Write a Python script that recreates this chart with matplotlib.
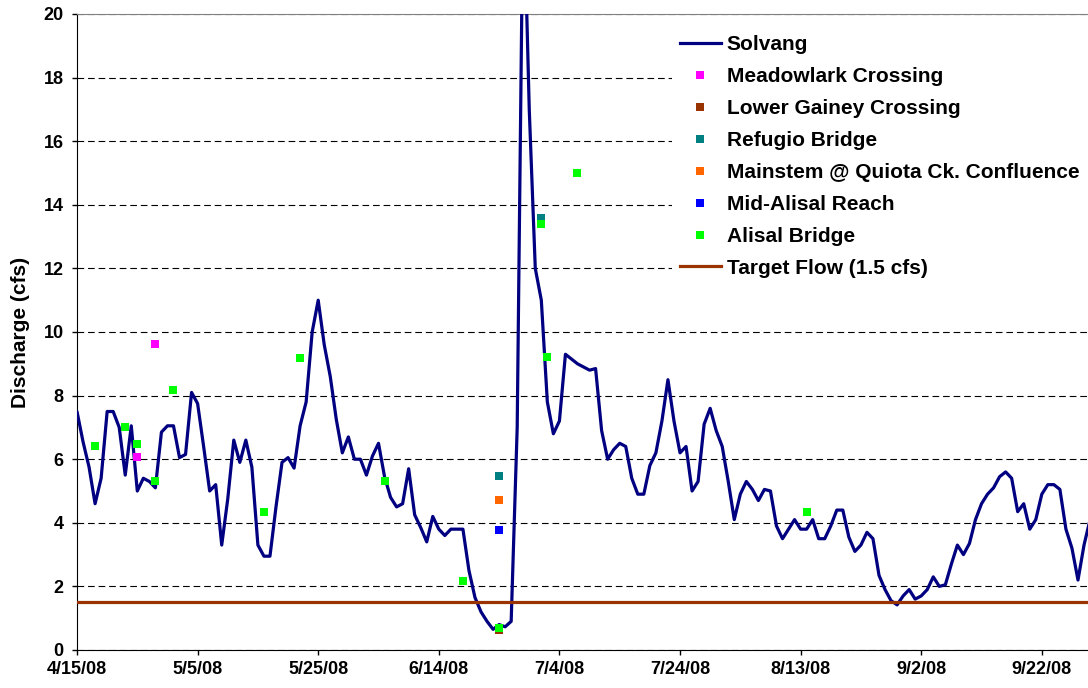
import numpy as np
import matplotlib
matplotlib.use("Agg")
from matplotlib import pyplot as plt
import matplotlib.dates as mdates

plt.rcParams['font.family'] = ['Liberation Sans', 'DejaVu Sans']
plt.rcParams['font.weight'] = 'bold'

# Solvang daily discharge (cfs), starting 4/14/08
solvang_start = np.datetime64('2008-04-14')
solvang_flow = [6.1,
    7.5, 6.55, 5.75, 4.6, 5.4, 7.5, 7.5, 7.0, 5.5, 7.05,
    5.0, 5.4, 5.3, 5.1, 6.85, 7.05, 7.05, 6.05, 6.15, 8.1,
    7.75, 6.4, 5.0, 5.2, 3.3, 4.75, 6.6, 5.9, 6.6, 5.75,
    3.3, 2.95, 2.95, 4.5, 5.9, 6.05, 5.72, 7.05, 7.8, 10.0,
    11.0, 9.6, 8.6, 7.25, 6.2, 6.7, 6.0, 6.0, 5.5, 6.1,
    6.5, 5.45, 4.8, 4.5, 4.6, 5.7, 4.25, 3.85, 3.4, 4.2,
    3.8, 3.6, 3.8, 3.8, 3.8, 2.5, 1.65, 1.2, 0.9, 0.65,
    0.8, 0.73, 0.9, 7.0, 24.3, 17.0, 12.0, 11.0, 7.8, 6.8,
    7.2, 9.3, 9.15, 9.0, 8.9, 8.8, 8.85, 6.9, 6.0, 6.3,
    6.5, 6.4, 5.4, 4.9, 4.9, 5.8, 6.2, 7.2, 8.5, 7.2,
    6.2, 6.4, 5.0, 5.3, 7.1, 7.6, 6.9, 6.4, 5.3, 4.1,
    4.9, 5.3, 5.05, 4.7, 5.05, 5.0, 3.9, 3.5, 3.8, 4.1,
    3.8, 3.8, 4.1, 3.5, 3.5, 3.9, 4.4, 4.4, 3.55, 3.1,
    3.3, 3.7, 3.5, 2.35, 1.9, 1.55, 1.42, 1.7, 1.9, 1.6,
    1.7, 1.9, 2.3, 2.0, 2.05, 2.7, 3.3, 3.0, 3.35, 4.1,
    4.6, 4.9, 5.1, 5.45, 5.6, 5.4, 4.35, 4.6, 3.8, 4.1,
    4.9, 5.2, 5.2, 5.05, 3.8, 3.2, 2.2, 3.3, 4.1]
solvang_dates = solvang_start + np.arange(len(solvang_flow))

# spot measurements
meadowlark_dates = ['2008-04-25', '2008-04-28']
meadowlark_flow = [6.07, 9.63]
gainey_dates = ['2008-06-24']
gainey_flow = [0.62]
refugio_dates = ['2008-06-24', '2008-07-01']
refugio_flow = [5.47, 13.57]
mainstem_dates = ['2008-06-24']
mainstem_flow = [4.73]
midalisal_dates = ['2008-06-24']
midalisal_flow = [3.77]
alisal_dates = ['2008-04-18', '2008-04-23', '2008-04-25', '2008-04-28', '2008-05-01',
                '2008-05-16', '2008-05-22', '2008-06-05', '2008-06-18', '2008-06-24',
                '2008-07-01', '2008-07-02', '2008-07-07', '2008-08-14']
alisal_flow = [6.42, 7.0, 6.47, 5.33, 8.19, 4.33, 9.18, 5.33, 2.17, 0.68,
               13.4, 9.22, 15.0, 4.34]

target_flow = 1.5

tick_dates = np.datetime64('2008-04-15') + np.arange(0, 161, 20)

fig = plt.figure(figsize=(10.88, 6.88), dpi=100)
ax = fig.add_axes([77/1088, 38/688, 1011/1088, 636/688])

ax.plot(solvang_dates, solvang_flow, color='#000080', lw=2.3, label='Solvang', zorder=3)

points = [
    (meadowlark_dates, meadowlark_flow, '#FF00FF', 'Meadowlark Crossing'),
    (gainey_dates, gainey_flow, '#993300', 'Lower Gainey Crossing'),
    (refugio_dates, refugio_flow, '#008080', 'Refugio Bridge'),
    (mainstem_dates, mainstem_flow, '#FF6600', 'Mainstem @ Quiota Ck. Confluence'),
    (midalisal_dates, midalisal_flow, '#0000FF', 'Mid-Alisal Reach'),
    (alisal_dates, alisal_flow, '#00FF00', 'Alisal Bridge'),
]
for d, v, c, name in points:
    ax.plot(np.array(d, dtype='datetime64[D]'), v, linestyle='none', marker='s',
            ms=6, mew=0, color=c, label=name, zorder=4)

ax.axhline(target_flow, color='#993300', lw=2.3, label='Target Flow (1.5 cfs)', zorder=3)

x0 = mdates.date2num(np.datetime64('2008-04-15'))
ax.set_xlim(x0, x0 + 167.66)
ax.set_ylim(0, 20)
ax.set_yticks(range(0, 21, 2))
ax.set_xticks(tick_dates)
ax.set_xticklabels([f"{d.month}/{d.day}/08" for d in tick_dates.astype(object)])

ax.yaxis.grid(True, linestyle=(0, (6, 3.5)), color='black', lw=0.8)
ax.set_axisbelow(True)

ax.spines['right'].set_visible(False)
ax.spines['top'].set_color('#808080')
ax.spines['left'].set_color('black')
ax.spines['bottom'].set_color('black')
ax.tick_params(axis='both', direction='out', length=3.6, width=1, labelsize=13)
ax.tick_params(axis='y', pad=6)
ax.tick_params(axis='x', pad=4)
for lab in ax.get_xticklabels() + ax.get_yticklabels():
    lab.set_fontweight('bold')

ax.set_ylabel('Discharge (cfs)', fontsize=15, fontweight='bold', labelpad=10)

leg = ax.legend(loc='upper left', bbox_to_anchor=(672/1088, 1 - 27/688),
                bbox_transform=fig.transFigure, frameon=True, fancybox=False,
                edgecolor='none', facecolor='white', framealpha=1,
                prop={'family': 'Liberation Sans', 'weight': 'bold', 'size': 15},
                handlelength=1.93, handletextpad=0.29, labelspacing=0.62,
                borderpad=0.4, borderaxespad=0)
leg.set_zorder(10)

fig.savefig('out.png', dpi=100)
